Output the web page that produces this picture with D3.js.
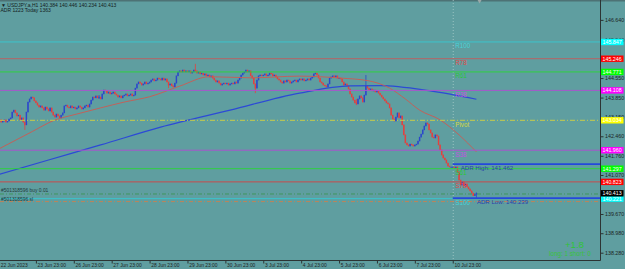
<!DOCTYPE html>
<html>
<head>
<meta charset="utf-8">
<script src="https://cdn.jsdelivr.net/npm/d3@7"></script>
<style>
  html, body { margin: 0; padding: 0; background: #5f9ea0; }
  svg { display: block; }
  text { font-family: "Liberation Sans", Arial, sans-serif; }
</style>
</head>
<body>
<div id="chart"></div>
<script>
// USDJPY H1 closes, one row per trading day (22 Jun 23:00 .. 11 Jul 14:00)
var closes = [
  143.01,143.05,142.97,143.01,143.05,142.97,143.01,143.08,143.12,143.33,143.40,143.30,143.19,143.22,143.05,143.12,142.97,142.87,143.33,143.69,143.80,143.87,143.84,143.73,
  143.66,143.58,143.51,143.55,143.48,143.40,143.51,143.44,143.37,143.48,143.33,143.22,143.15,143.26,143.19,143.12,143.22,143.30,143.55,143.58,143.51,143.48,143.55,143.48,
  143.51,143.44,143.48,143.55,143.51,143.44,143.48,143.55,143.58,143.51,143.62,143.76,143.87,143.84,143.91,143.84,143.87,143.80,143.98,144.12,144.09,144.01,144.05,143.98,
  144.01,144.05,143.98,143.94,143.87,143.91,143.84,143.91,143.94,143.98,143.91,143.94,143.98,143.91,143.94,144.19,144.34,144.41,144.37,144.30,144.34,144.41,144.34,144.37,
  144.41,144.48,144.52,144.45,144.48,144.55,144.52,144.48,144.55,144.48,144.52,144.41,144.30,144.34,144.27,144.23,144.37,144.63,144.77,144.81,144.77,144.84,144.77,144.81,
  144.77,144.81,144.73,144.77,144.84,144.81,144.73,144.77,144.70,144.73,144.66,144.70,144.63,144.66,144.59,144.63,144.55,144.48,144.41,144.45,144.37,144.30,144.34,144.37,
  144.34,144.37,144.30,144.34,144.37,144.34,144.41,144.37,144.48,144.55,144.66,144.73,144.77,144.84,144.77,144.81,144.63,144.55,144.34,144.19,144.48,144.63,144.66,144.63,
  144.66,144.70,144.63,144.66,144.73,144.70,144.63,144.66,144.59,144.52,144.48,144.41,144.37,144.45,144.41,144.48,144.45,144.37,144.41,144.45,144.48,144.41,144.48,144.52,
  144.48,144.52,144.45,144.48,144.52,144.48,144.55,144.59,144.70,144.73,144.66,144.55,144.41,144.37,144.30,144.27,144.23,144.34,144.55,144.59,144.63,144.59,144.63,144.55,
  144.55,144.52,144.41,144.30,144.34,144.27,144.16,143.98,143.87,143.76,143.66,143.62,143.80,143.91,143.84,143.69,143.94,144.27,144.19,144.12,144.16,144.09,144.12,144.05,
  144.09,144.01,143.94,143.87,143.80,143.73,143.66,143.62,143.48,143.22,143.08,143.01,143.15,143.30,143.12,143.19,142.87,142.51,142.22,142.15,142.11,142.18,142.15,142.11,
  142.15,142.18,142.29,142.43,142.54,142.69,142.83,142.94,142.90,142.69,142.58,142.43,142.40,142.51,142.47,142.15,141.97,141.79,141.68,141.61,141.50,141.39,141.36,141.36,
  141.36,141.32,141.36,141.18,140.89,140.71,140.82,140.68,140.75,140.64,140.57,140.50,140.42,140.33,140.384,140.413
];
var firstOpen = 143.03;
// bars whose wick sticks out: [bar, high, low]
var wicks = [[17,142.97,142.69],[64,143.94,143.80],[108,144.41,144.19],[125,145.06,144.77],
  [163,144.34,144.01],[227,143.80,143.58],[233,144.66,143.94],[303,140.446,140.234]];

var dayBars = [0,24,48,72,96,120,144,168,192,216,240,264,288];
var dayLabels = ["22 Jun 2023","23 Jun 23:00","26 Jun 23:00","27 Jun 23:00","28 Jun 23:00","29 Jun 23:00",
  "30 Jun 23:00","3 Jul 23:00","4 Jul 23:00","5 Jul 23:00","6 Jul 23:00","7 Jul 23:00","10 Jul 23:00"];

// visible price scale labels (the rest sit under the level boxes)
var priceTicks = [146.640,145.940,144.550,143.850,143.150,142.460,141.760,141.070,139.670,138.980,138.280];

// fibo pivot levels
var levelNames = ["R100","R78","R61","R38","Pivot","S38","S61","S78","S100"];
var levelValues = [145.847,145.246,144.771,144.108,143.034,141.960,141.297,140.823,140.221];

// moving averages, read at a few bars
var maSlowBars = [0,22,35,50,65,80,96,115,134,160,191,217,235,248,258,267,280,292,303];
var maSlowValues = [141.99,142.64,143.02,143.26,143.48,143.69,143.88,144.26,144.60,144.56,144.62,144.55,144.45,144.19,143.80,143.40,143.05,142.51,141.90];
var maLongBars = [0,32,65,103,147,191,223,242,273,303];
var maLongValues = [141.08,141.61,142.15,142.79,143.40,144.01,144.27,144.28,144.10,143.79];

var adrHigh = 141.462, adrLow = 140.239, adrStartBar = 288;
var bid = 140.413, buyPrice = 140.389, slPrice = 140.115;
var header = "USDJPY.a,H1  140.384 140.446 140.234 140.413";
var header2 = "ADR 1223  Today 1363";

var W = 625, H = 269;
var plotR = 600, plotB = 260;

var levelStyle = {
  R100: ["#3cc4cc", "#00ffff", "#48d4d8"], R78: ["#b86262", "#ff0000", "#e04848"],
  R61: ["#30d040", "#00ff00", "#28c838"], R38: ["#a855cc", "#ff00ff", "#c050e0"],
  Pivot: ["#c8cc48", "#ffff00", "#d4d840"], S38: ["#a855cc", "#ff00ff", "#c050e0"],
  S61: ["#30d040", "#00ff00", "#28c838"], S78: ["#c84c4c", "#ff0000", "#e04848"],
  S100: ["#3cc4cc", "#00ffff", "#48d4d8"]
};

var svg = d3.select('#chart').append('svg').attr('width', W).attr('height', H);
svg.append('rect').attr('width', W).attr('height', H).attr('fill', '#5f9ea0');
svg.append('rect').attr('width', W).attr('height', 1.5).attr('fill', '#4d7275');

svg.append('clipPath').attr('id', 'plot').append('rect')
  .attr('width', plotR).attr('height', plotB);

var x = d3.scaleLinear().domain([0, 380]).range([-2, 598]);
var y = d3.scaleLinear().domain([138.018, 147.354]).range([plotB, 0]);

var plot = svg.append('g').attr('clip-path', 'url(#plot)');

// day separator
plot.append('line')
  .attr('x1', x(adrStartBar) + 0.5).attr('x2', x(adrStartBar) + 0.5)
  .attr('y1', 0).attr('y2', plotB)
  .attr('stroke', '#a9cccc').attr('stroke-width', 0.8).attr('stroke-dasharray', '1,2');

// candles
var bars = closes.map(function(c, i) {
  var o = i === 0 ? firstOpen : closes[i - 1];
  return {i: i, o: o, c: c, h: Math.max(o, c), l: Math.min(o, c)};
});
wicks.forEach(function(w) { bars[w[0]].h = w[1]; bars[w[0]].l = w[2]; });

var bull = '#2b47cc', bear = '#e5403e';
var cg = plot.append('g');
cg.selectAll('line').data(bars).enter().append('line')
  .attr('x1', function(d) { return x(d.i); })
  .attr('x2', function(d) { return x(d.i); })
  .attr('y1', function(d) { return y(d.h); })
  .attr('y2', function(d) { return y(d.l); })
  .attr('stroke', function(d) { return d.c >= d.o ? bull : bear; })
  .attr('stroke-width', 0.8);
cg.selectAll('rect').data(bars).enter().append('rect')
  .attr('x', function(d) { return x(d.i) - 0.7; })
  .attr('width', 1.4)
  .attr('y', function(d) { return Math.min(y(d.o), y(d.c)) - 0.3; })
  .attr('height', function(d) { return Math.max(1.2, Math.abs(y(d.o) - y(d.c)) + 0.6); })
  .attr('fill', function(d) { return d.c >= d.o ? bull : bear; });

// moving averages
var maLine = d3.line().curve(d3.curveMonotoneX)
  .x(function(d) { return x(d[0]); })
  .y(function(d) { return y(d[1]); });
plot.append('path')
  .attr('d', maLine(d3.zip(maLongBars, maLongValues)))
  .attr('fill', 'none').attr('stroke', '#2c4ad6').attr('stroke-width', 1.2);
plot.append('path')
  .attr('d', maLine(d3.zip(maSlowBars, maSlowValues)))
  .attr('fill', 'none').attr('stroke', '#cc5a52').attr('stroke-width', 0.9);

// pivot levels
levelNames.forEach(function(n, k) {
  var v = levelValues[k], st = levelStyle[n];
  plot.append('line')
    .attr('x1', 0).attr('x2', plotR).attr('y1', y(v)).attr('y2', y(v))
    .attr('stroke', st[0]).attr('stroke-width', 1)
    .attr('stroke-dasharray', n === 'Pivot' ? '5,2,1,2' : null);
  plot.append('text')
    .attr('x', x(adrStartBar) + 2.5).attr('y', y(v) + 6.3)
    .attr('font-size', 6.3).attr('fill', st[2]).text(n);
});

// order lines
plot.append('line').attr('x1', 0).attr('x2', plotR)
  .attr('y1', y(buyPrice)).attr('y2', y(buyPrice))
  .attr('stroke', '#3c9658').attr('stroke-width', 0.9).attr('stroke-dasharray', '4,2,1,2');
plot.append('line').attr('x1', 0).attr('x2', plotR)
  .attr('y1', y(slPrice)).attr('y2', y(slPrice))
  .attr('stroke', '#c88050').attr('stroke-width', 0.9).attr('stroke-dasharray', '4,2,1,2');
plot.append('text').attr('x', 1).attr('y', y(buyPrice) - 1.5)
  .attr('font-size', 4.9).attr('fill', '#1f3a3a').text('#501318596 buy 0.01');
plot.append('text').attr('x', 1).attr('y', y(slPrice) - 1)
  .attr('font-size', 4.9).attr('fill', '#1f3a3a').text('#501318596 sl');

// ADR lines
[[adrHigh, 'ADR High: ' + adrHigh.toFixed(3), x(adrStartBar) + 8],
 [adrLow, 'ADR Low: ' + adrLow.toFixed(3), x(303) + 0.5]].forEach(function(a) {
  plot.append('line')
    .attr('x1', x(adrStartBar)).attr('x2', plotR).attr('y1', y(a[0])).attr('y2', y(a[0]))
    .attr('stroke', '#2448dc').attr('stroke-width', 1.8);
  plot.append('text').attr('x', a[2]).attr('y', y(a[0]) + 5.6)
    .attr('font-size', 6.1).attr('fill', '#2a3fae').text(a[1]);
});

// shift marker
plot.append('path')
  .attr('d', d3.symbol().type(d3.symbolTriangle).size(8)())
  .attr('transform', 'translate(' + x(305) + ',1) rotate(180)')
  .attr('fill', '#9aa8a8');

// trade summary
svg.append('text').attr('x', 565).attr('y', 247.5)
  .attr('font-size', 9.6).attr('fill', '#2fc436').text('+1.8');
svg.append('text').attr('x', 549).attr('y', 256)
  .attr('font-size', 6.3).attr('fill', '#38c23c').text('long: 1  short: 0');

// axes
svg.append('line').attr('x1', plotR + 0.5).attr('x2', plotR + 0.5).attr('y1', 0).attr('y2', plotB + 0.5)
  .attr('stroke', '#2c3434').attr('stroke-width', 1);
svg.append('line').attr('x1', 0).attr('x2', plotR + 0.5).attr('y1', plotB + 0.5).attr('y2', plotB + 0.5)
  .attr('stroke', '#2c3434').attr('stroke-width', 1);

var yAxis = d3.axisRight(y).tickValues(priceTicks).tickSize(3).tickPadding(1.5)
  .tickFormat(d3.format('.3f'));
svg.append('g').attr('transform', 'translate(' + (plotR + 0.5) + ',0)').call(yAxis)
  .call(function(g) {
    g.select('.domain').remove();
    g.selectAll('line').attr('stroke', '#2c3434');
    g.selectAll('text').attr('font-size', 5.3).attr('fill', '#1c2424')
      .attr('font-family', '"Liberation Sans", Arial, sans-serif');
  });

var xAxis = d3.axisBottom(x).tickValues(dayBars).tickSize(3).tickPadding(1)
  .tickFormat(function(d, k) { return dayLabels[k]; });
svg.append('g').attr('transform', 'translate(0,' + (plotB + 0.5) + ')').call(xAxis)
  .call(function(g) {
    g.select('.domain').remove();
    g.selectAll('line').attr('stroke', '#2c3434');
    g.selectAll('text').attr('font-size', 4.9).attr('fill', '#1c2424')
      .attr('text-anchor', 'start').attr('dx', 1.2).attr('dy', '0.45em')
      .attr('font-family', '"Liberation Sans", Arial, sans-serif');
    g.select('.tick text').attr('dx', 2.2);
  });

// price labels on the axis
var boxes = levelNames.map(function(n, k) {
  return {v: levelValues[k], fill: levelStyle[n][1], txt: '#ffffff'};
});
boxes.push({v: bid, fill: '#000000', txt: '#ffffff'});
var bg = svg.append('g');
boxes.forEach(function(b) {
  bg.append('rect').attr('x', plotR + 1).attr('y', y(b.v) - 3.2)
    .attr('width', 22.5).attr('height', 6.4).attr('fill', b.fill);
  bg.append('text').attr('x', plotR + 2.5).attr('y', y(b.v) + 1.9)
    .attr('font-size', 5.3).attr('fill', b.txt).text(b.v.toFixed(3));
});

// header
svg.append('text').attr('x', 1).attr('y', 6.6).attr('font-size', 5).attr('fill', '#141c1c')
  .text('\u25BC ' + header);
svg.append('text').attr('x', 0.5).attr('y', 12).attr('font-size', 5).attr('fill', '#141c1c')
  .text(header2);
</script>
</body>
</html>
